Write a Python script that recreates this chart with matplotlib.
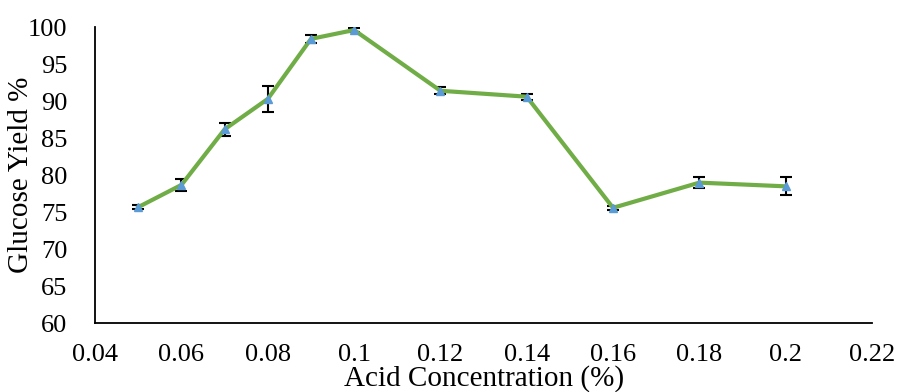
import matplotlib
matplotlib.use("Agg")
import matplotlib.pyplot as plt

acid = [0.05, 0.06, 0.07, 0.08, 0.09, 0.1, 0.12, 0.14, 0.16, 0.18, 0.2]
glucose_yield = [75.7, 78.7, 86.2, 90.3, 98.4, 99.6, 91.4, 90.6, 75.6, 79.0, 78.5]
yield_err = [0.3, 0.8, 0.85, 1.7, 0.5, 0.3, 0.5, 0.4, 0.3, 0.7, 1.2]
xticks = [0.04, 0.06, 0.08, 0.1, 0.12, 0.14, 0.16, 0.18, 0.2, 0.22]
xtick_labels = ["0.04", "0.06", "0.08", "0.1", "0.12", "0.14", "0.16", "0.18", "0.2", "0.22"]
yticks = [60, 65, 70, 75, 80, 85, 90, 95, 100]

plt.rcParams['font.family'] = ['Liberation Serif', 'DejaVu Serif']

fig = plt.figure(figsize=(8.98, 3.92), dpi=100)
ax = fig.add_axes([0.106, 0.175, 0.865, 0.756])

ax.errorbar(acid, glucose_yield, yerr=yield_err, fmt='none', ecolor='black',
            elinewidth=1.5, capsize=4.5, capthick=1.5, zorder=2)
ax.plot(acid, glucose_yield, color='#70AD47', linewidth=3, zorder=3)
ax.plot(acid, glucose_yield, linestyle='none', marker='^', markersize=6,
        color='#5B9BD5', zorder=4)

ax.set_xlim(0.04, 0.22)
ax.set_ylim(60, 100)
ax.set_xticks(xticks)
ax.set_xticklabels(xtick_labels)
ax.set_yticks(yticks)
ax.tick_params(axis='both', length=0, labelsize=19)
ax.tick_params(axis='x', pad=15)
ax.tick_params(axis='y', pad=20)
for s in ['top', 'right']:
    ax.spines[s].set_visible(False)
for s in ['left', 'bottom']:
    ax.spines[s].set_linewidth(1.3)
ax.set_xlabel('Acid Concentration (%)', fontsize=21)
ax.set_ylabel('Glucose Yield %', fontsize=21)
ax.xaxis.label.set_va('center')
ax.yaxis.label.set_va('center')
ax.xaxis.set_label_coords(0.5, -0.185)
ax.yaxis.set_label_coords(-0.095, 0.5)

fig.savefig('out.png', dpi=100)
